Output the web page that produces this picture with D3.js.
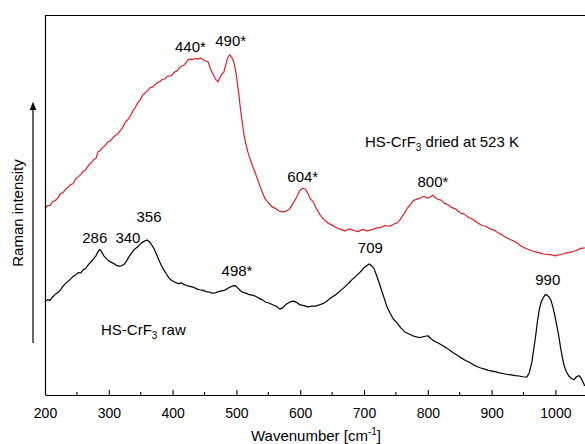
<!DOCTYPE html>
<html>
<head>
<meta charset="utf-8">
<script src="https://cdn.jsdelivr.net/npm/d3@7"></script>
<style>
  body { margin: 0; background: #fff; }
  svg { display: block; font-family: "Liberation Sans", Arial, sans-serif; }
</style>
</head>
<body>
<div id="chart"></div>
<script>
var W = 585, H = 444;

/* wavenumber [cm-1] and intensity (arb. units) */
var driedWave = [200,204,208,212,216,220,224,228,232,236,240,244,248,252,256,260,264,268,272,276,280,283,286,290,294,298,302,306,310,314,318,322,325,330,335,338,341,345,349,353,357,361,365,369,372,376,380,384,388,392,396,399,403,407,411,415,419,424,428,432,436,440,444,448,452,456,459,463,467,471,474,477,480,483,486,488,490,492,494,496,498,500,502,504,506,508,510,512,515,518,521,525,529,533,537,541,545,550,556,562,568,573,578,583,589,593,597,600,604,608,612,616,620,625,631,637,644,650,657,663,670,677,684,691,698,705,712,719,726,733,740,747,752,756,760,764,768,772,776,779,784,789,794,799,804,808,812,816,821,826,832,838,844,851,857,864,871,878,885,891,898,904,910,916,922,928,934,940,946,952,958,964,970,976,982,988,994,1000,1006,1012,1018,1024,1030,1035,1040,1046];
var driedInt = [49.2,49.8,49.9,50.9,51.2,51.8,53.0,53.2,54.1,54.6,55.4,55.6,56.9,57.4,58.0,58.9,59.3,60.4,61.0,61.9,62.3,64.0,64.2,65.1,65.6,66.5,66.8,67.6,68.3,68.7,69.6,70.4,71.6,72.5,73.8,74.9,75.5,76.8,77.6,78.9,79.5,80.1,80.9,81.0,81.6,82.2,82.5,83.1,83.2,83.9,84.0,84.2,85.0,85.3,86.2,86.6,87.0,88.2,88.4,88.3,88.6,88.4,88.7,88.2,87.9,87.6,86.0,84.5,83.2,82.4,83.4,84.5,84.8,86.6,88.6,89.2,89.5,88.9,88.5,87.6,86.0,84.0,81.5,78.9,75.8,73.2,70.8,68.4,66.0,63.9,62.4,60.4,58.7,56.8,54.9,53.2,51.6,50.6,49.5,49.0,48.3,48.2,48.4,48.9,50.5,51.6,53.0,53.9,54.4,54.2,53.1,51.6,50.9,49.2,47.4,46.2,45.2,44.7,44.0,43.6,43.2,43.7,43.3,43.0,43.6,43.2,43.5,43.9,44.1,44.6,44.4,45.0,45.3,46.0,47.0,48.0,49.2,50.0,50.9,51.3,51.6,51.9,52.3,51.8,52.1,52.6,51.9,51.5,51.3,50.5,50.0,49.3,48.9,47.9,47.6,46.7,46.2,45.3,44.6,44.4,43.7,43.4,42.7,42.2,41.5,41.0,40.6,40.0,39.2,38.7,38.3,37.9,37.6,37.4,37.1,37.0,36.9,36.6,36.9,37.1,37.4,37.6,37.9,38.2,38.6,38.7];

var rawWave = [200,204,208,212,216,220,224,228,232,236,240,244,248,252,256,260,264,268,272,276,280,284,286,289,292,296,300,304,308,312,316,320,324,328,332,336,340,344,348,352,356,360,363,366,370,374,378,382,386,390,394,398,402,406,410,414,418,422,427,432,437,442,447,452,457,462,467,472,477,482,486,490,494,498,502,506,510,515,520,525,530,535,540,546,551,556,562,568,573,578,584,590,595,600,606,612,618,624,630,636,641,646,652,657,662,667,672,677,682,687,692,696,700,704,708,712,716,720,724,728,732,736,741,746,752,758,764,770,776,782,788,794,800,805,811,817,823,829,835,841,847,853,859,865,871,877,883,889,895,901,907,913,919,925,931,937,943,949,955,959,963,966,969,972,975,978,981,984,987,990,993,996,999,1002,1005,1008,1011,1014,1017,1021,1025,1029,1033,1037,1040,1043,1046];
var rawInt = [24.5,25.1,24.9,25.8,26.5,26.9,27.6,28.6,29.3,29.9,30.5,31.2,31.6,32.2,32.1,33.0,33.3,34.3,35.0,35.8,36.7,38.0,38.3,37.6,36.7,35.9,35.3,34.9,34.6,34.1,33.9,34.0,34.4,35.3,36.5,37.4,38.3,38.8,39.5,40.1,40.5,40.8,40.4,39.8,38.8,37.3,35.7,34.2,33.0,31.9,30.9,30.2,29.8,29.5,29.3,29.5,29.1,28.8,28.6,28.4,28.0,27.7,27.6,27.2,27.1,26.8,26.9,27.2,27.4,27.6,28.0,28.4,28.7,28.8,28.2,27.5,27.0,26.8,26.4,26.3,26.0,25.5,25.1,24.4,24.2,23.8,23.4,22.6,23.0,23.9,24.5,24.7,24.3,23.7,23.5,23.2,23.4,23.4,23.7,24.1,24.6,25.3,26.0,26.6,27.3,28.0,28.8,29.6,30.5,31.2,32.0,32.7,33.5,34.0,34.5,34.0,33.2,31.3,29.4,27.3,25.3,23.2,21.5,20.0,18.9,17.6,16.6,16.1,15.6,15.3,15.1,15.4,15.6,14.8,14.1,13.6,13.0,12.4,11.7,11.0,10.4,9.7,9.1,8.6,8.0,7.5,7.1,6.8,6.5,6.3,6.1,5.8,5.6,5.4,5.3,5.1,5.0,4.8,4.7,5.8,8.5,12.0,15.5,19.5,22.7,24.6,25.6,26.4,26.3,25.8,24.9,23.2,21.0,18.4,15.8,12.6,9.8,7.6,6.2,5.0,4.4,4.0,4.8,5.1,4.5,3.5,2.4];

var xTicks = [200,300,400,500,600,700,800,900,1000];
var xMinor = [250,350,450,550,650,750,850,950,1050];
/* label text; position given in wavenumber (x) and pixel baseline (y) */
var peakLabels = [
  {text: "440*", at: 428, by: 52},
  {text: "490*", at: 491, by: 46},
  {text: "604*", at: 604, by: 182},
  {text: "800*", at: 808, by: 187},
  {text: "286", at: 278, by: 243},
  {text: "340", at: 330, by: 243},
  {text: "356", at: 363, by: 222},
  {text: "498*", at: 501, by: 276},
  {text: "709", at: 710, by: 253},
  {text: "990", at: 988, by: 285}
];

var left = 45, plotTop = 15, bottom = 395;
var x = d3.scaleLinear().domain([200, 1050]).range([left, left + 850 * 0.638]);
var y = d3.scaleLinear().domain([0, 100]).range([bottom, plotTop]);

var svg = d3.select("#chart").append("svg")
  .attr("width", W).attr("height", H);

svg.append("defs").append("marker")
  .attr("id", "arrow")
  .attr("viewBox", "0 0 10 10")
  .attr("refX", 5).attr("refY", 5)
  .attr("markerWidth", 7).attr("markerHeight", 9)
  .attr("orient", "auto-start-reverse")
  .append("path")
  .attr("d", "M0,1 L10,5 L0,9 z")
  .attr("fill", "#000");

var line = d3.line()
  .x(function(d){ return x(d[0]); })
  .y(function(d){ return y(d[1]); });

svg.append("path")
  .datum(d3.zip(driedWave, driedInt))
  .attr("fill", "none")
  .attr("stroke", "#dc1f26")
  .attr("stroke-width", 1.2)
  .attr("stroke-linejoin", "round")
  .attr("d", line);

svg.append("path")
  .datum(d3.zip(rawWave, rawInt))
  .attr("fill", "none")
  .attr("stroke", "#000")
  .attr("stroke-width", 1.2)
  .attr("stroke-linejoin", "round")
  .attr("d", line);

/* frame */
svg.append("line").attr("x1", left).attr("x2", W).attr("y1", plotTop + 0.5).attr("y2", plotTop + 0.5)
  .attr("stroke", "#000").attr("stroke-width", 1.2);
svg.append("line").attr("x1", left + 0.5).attr("x2", left + 0.5).attr("y1", plotTop).attr("y2", bottom)
  .attr("stroke", "#000").attr("stroke-width", 1.2);

/* bottom axis, ticks pointing inward */
var xAxis = svg.append("g")
  .attr("transform", "translate(0," + bottom + ")")
  .call(d3.axisBottom(x).tickValues(xTicks).tickFormat(d3.format("d"))
    .tickSizeInner(-5).tickSizeOuter(0).tickPadding(13));
xAxis.select(".domain").attr("stroke-width", 1.2);
xAxis.selectAll(".tick line").attr("stroke-width", 1.1);
xAxis.selectAll(".tick text").attr("font-size", 14).attr("font-family", "Liberation Sans, Arial, sans-serif").attr("fill", "#000");
xAxis.selectAll(".minor")
  .data(xMinor).enter().append("line")
  .attr("class", "minor")
  .attr("x1", function(d){ return x(d); })
  .attr("x2", function(d){ return x(d); })
  .attr("y1", 0).attr("y2", -3)
  .attr("stroke", "#000").attr("stroke-width", 1.1);

var xt = svg.append("text")
  .attr("x", 316).attr("y", 441)
  .attr("text-anchor", "middle")
  .attr("font-size", 15)
  .text("Wavenumber [cm");
xt.append("tspan").attr("font-size", 10).attr("dy", -6).text("-1");
xt.append("tspan").attr("dy", 6).text("]");

/* y label and arrow */
svg.append("text")
  .attr("transform", "translate(23,213) rotate(-90)")
  .attr("text-anchor", "middle")
  .attr("font-size", 15)
  .text("Raman intensity");
svg.append("line")
  .attr("x1", 33).attr("x2", 33).attr("y1", 343).attr("y2", 106)
  .attr("stroke", "#000").attr("stroke-width", 1.2)
  .attr("marker-end", "url(#arrow)");

/* peak labels */
svg.selectAll(".peak")
  .data(peakLabels).enter().append("text")
  .attr("class", "peak")
  .attr("x", function(d){ return x(d.at); })
  .attr("y", function(d){ return d.by; })
  .attr("text-anchor", "middle")
  .attr("font-size", 15)
  .text(function(d){ return d.text; });

/* sample labels */
var t1 = svg.append("text").attr("x", 365).attr("y", 147).attr("font-size", 15).text("HS-CrF");
t1.append("tspan").attr("font-size", 10).attr("dy", 4).text("3");
t1.append("tspan").attr("dy", -4).text(" dried at 523 K");

var t2 = svg.append("text").attr("x", 101).attr("y", 335).attr("font-size", 15).text("HS-CrF");
t2.append("tspan").attr("font-size", 10).attr("dy", 4).text("3");
t2.append("tspan").attr("dy", -4).text(" raw");
</script>
</body>
</html>
